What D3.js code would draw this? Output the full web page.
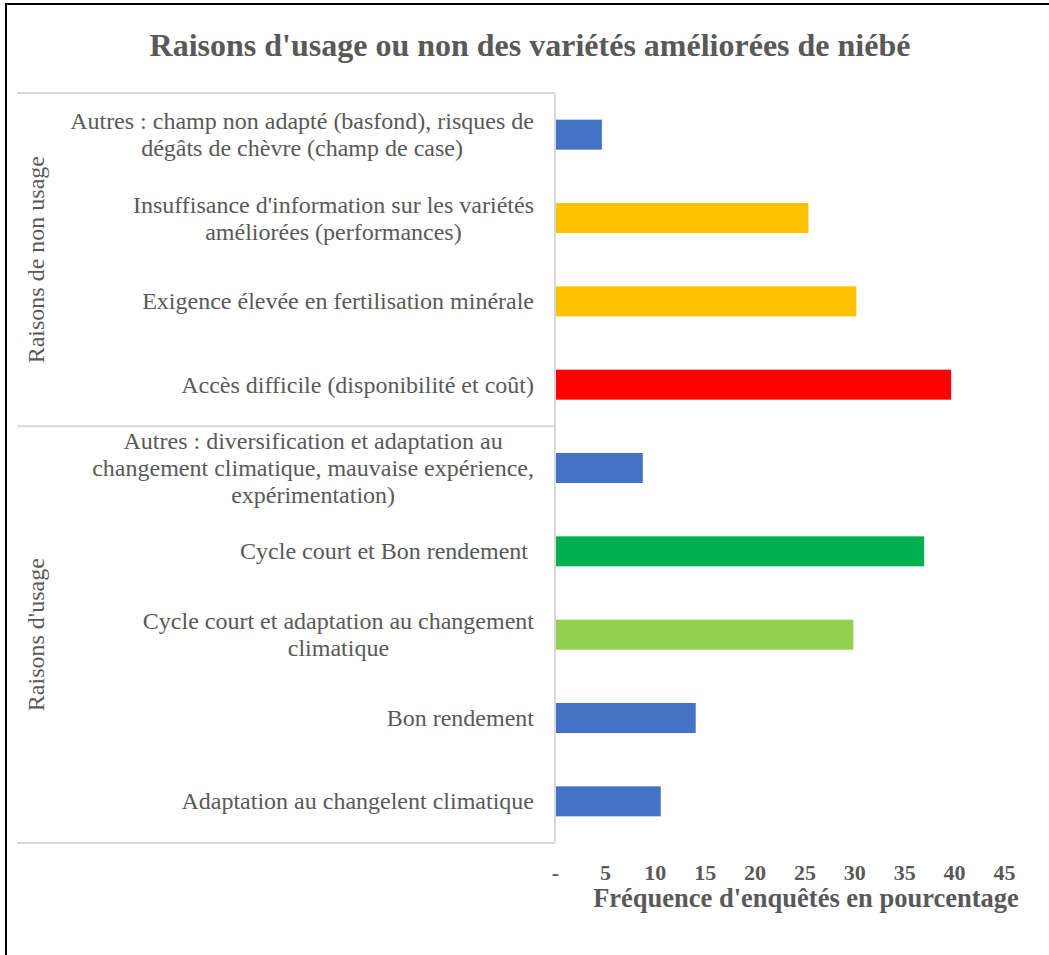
<!DOCTYPE html>
<html>
<head>
<meta charset="utf-8">
<script src="https://cdn.jsdelivr.net/npm/d3@7"></script>
<style>
  body { margin: 0; background: #fff; }
  svg { display: block; }
</style>
</head>
<body>
<div class="container"></div>
<script>
// categories, top to bottom
var categories = [
  "Autres : champ non adapté (basfond), risques de|dégâts de chèvre (champ de case)",
  "Insuffisance d'information sur les variétés|améliorées (performances)",
  "Exigence élevée en fertilisation minérale",
  "Accès difficile (disponibilité et coût)",
  "Autres : diversification et adaptation au|changement climatique, mauvaise expérience,|expérimentation)",
  "Cycle court et Bon rendement ",
  "Cycle court et adaptation au changement|climatique",
  "Bon rendement",
  "Adaptation au changelent climatique"
];
var values = [4.7, 25.4, 30.2, 39.7, 8.8, 37.0, 29.9, 14.1, 10.6];
var barColors = ["#4472C4", "#FFC000", "#FFC000", "#FF0000", "#4472C4", "#00B050", "#92D050", "#4472C4", "#4472C4"];
var groups = ["Raisons de non usage", "Raisons d'usage"];
var groupSizes = [4, 5];
var ticks = [0, 5, 10, 15, 20, 25, 30, 35, 40, 45];

var width = 1049, height = 955;
var grey = "#595959", lineGrey = "#d9d9d9";
var font = "'Liberation Serif', 'Times New Roman', serif";

var svg = d3.select(".container").append("svg")
  .attr("width", width).attr("height", height);

// outer frame
svg.append("rect")
  .attr("x", 6).attr("y", 4).attr("width", width + 10).attr("height", height + 10)
  .attr("fill", "none").attr("stroke", "#000").attr("stroke-width", 2);

var x = d3.scaleLinear().domain([0, 45]).range([555, 1004]);
var y = d3.scaleBand().domain(d3.range(categories.length)).range([93, 843]).paddingInner(0.64).paddingOuter(0.32);

// title
svg.append("text")
  .attr("x", 530).attr("y", 56)
  .attr("text-anchor", "middle")
  .style("font-family", font).style("font-weight", "bold").style("font-size", "32px")
  .attr("fill", grey)
  .text("Raisons d'usage ou non des variétés améliorées de niébé");

// bars
svg.selectAll("rect.bar")
  .data(values)
  .enter().append("rect")
  .attr("class", "bar")
  .attr("x", x(0))
  .attr("y", function (d, i) { return y(i); })
  .attr("width", function (d) { return x(d) - x(0); })
  .attr("height", y.bandwidth())
  .attr("fill", function (d, i) { return barColors[i]; });

// category axis line
svg.append("line")
  .attr("x1", x(0)).attr("x2", x(0)).attr("y1", 93).attr("y2", 843)
  .attr("stroke", lineGrey).attr("stroke-width", 2);

// group separators
var step = (843 - 93) / categories.length;
var bounds = [0, groupSizes[0], groupSizes[0] + groupSizes[1]];
bounds.forEach(function (b) {
  svg.append("line")
    .attr("x1", 17).attr("x2", x(0))
    .attr("y1", 93 + b * step).attr("y2", 93 + b * step)
    .attr("stroke", lineGrey).attr("stroke-width", 2);
});

// group labels (rotated)
groups.forEach(function (g, i) {
  var yc = 93 + (bounds[i] + bounds[i + 1]) / 2 * step;
  svg.append("text")
    .attr("transform", "translate(44," + yc + ") rotate(-90)")
    .attr("text-anchor", "middle")
    .style("font-family", font).style("font-size", "24px")
    .attr("fill", grey)
    .text(g);
});

// category labels, lines centred, block right-aligned
var lineH = 27;
categories.forEach(function (c, i) {
  var lines = c.split("|");
  var yc = y(i) + y.bandwidth() / 2;
  var t = svg.append("text")
    .style("font-family", font).style("font-size", "24px")
    .style("white-space", "pre")
    .attr("fill", grey)
    .attr("text-anchor", "middle");
  lines.forEach(function (l, j) {
    t.append("tspan").attr("y", yc + (j - (lines.length - 1) / 2) * lineH + 8).text(l);
  });
  var maxW = 0;
  t.selectAll("tspan").each(function () { maxW = Math.max(maxW, this.getComputedTextLength()); });
  t.selectAll("tspan").attr("x", 534 - maxW / 2);
});

// value axis
var axis = d3.axisBottom(x).tickValues(ticks).tickSize(0)
  .tickFormat(function (d) { return d === 0 ? "-" : d; });
var ag = svg.append("g").attr("transform", "translate(0,861)").call(axis);
ag.select(".domain").remove();
ag.selectAll("text")
  .style("font-family", font).style("font-weight", "bold").style("font-size", "22px")
  .attr("fill", grey);

svg.append("text")
  .attr("x", 806).attr("y", 907)
  .attr("text-anchor", "middle")
  .style("font-family", font).style("font-weight", "bold").style("font-size", "26.5px")
  .attr("fill", grey)
  .text("Fréquence d'enquêtés en pourcentage");
</script>
</body>
</html>
